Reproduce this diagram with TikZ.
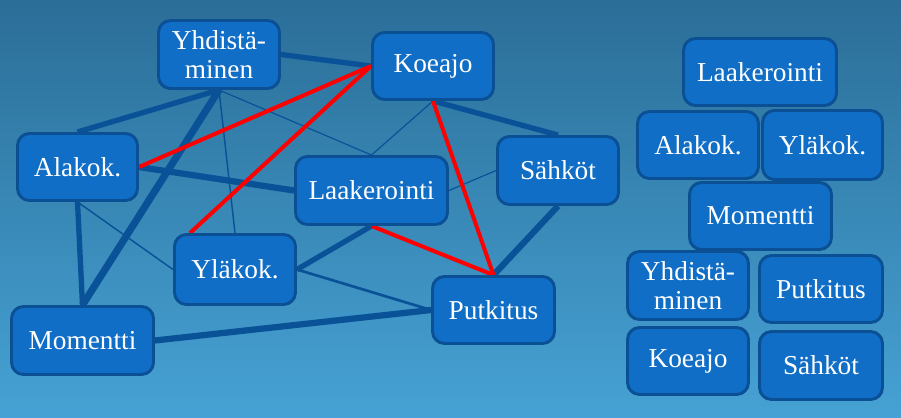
\documentclass[tikz,border=0pt]{standalone}
\usepackage{fontspec}
\setmainfont{Liberation Serif}
\usetikzlibrary{backgrounds}
\pgfdeclarelayer{edges}
\pgfsetlayers{background,edges,main}
\definecolor{bgtop}{HTML}{2B6E98}
\definecolor{bgbot}{HTML}{46A2D4}
\definecolor{boxfill}{HTML}{106EC6}
\definecolor{boxline}{HTML}{0B4F94}
\definecolor{edgecol}{HTML}{0A5298}
\definecolor{redline}{HTML}{FF0000}
\begin{document}
\begin{tikzpicture}[x=0.75pt,y=-0.75pt,
  box/.style={draw=boxline, fill=boxfill, line width=2.2pt, rounded corners=9pt,
    text=white, font=\fontsize{20.5}{22}\selectfont, align=center, inner sep=0pt},
  sz/.style 2 args={minimum width=#1pt, minimum height=#2pt},
  thinlink/.style={draw=edgecol, line width=0.9pt},
  medlink/.style={draw=edgecol, line width=2pt},
  thicklink/.style={draw=edgecol, line width=4pt},
  heavylink/.style={draw=edgecol, line width=4.7pt},
  hugelink/.style={draw=edgecol, line width=5.4pt},
  redlink/.style={draw=redline, line width=3pt}]
\begin{pgfonlayer}{background}
  \shade[top color=bgtop, bottom color=bgbot] (0,0) rectangle (901,418);
\end{pgfonlayer}
\useasboundingbox (0,0) rectangle (901,418);

% left graph nodes
\node[box, sz={90.75}{51}]    (Y)  at (219,54.5)   {Yhdistä-\\minen};
\node[box, sz={90.75}{50.25}] (K)  at (433,66)     {Koeajo};
\node[box, sz={90}{50.25}]    (A)  at (77.5,167)   {Alakok.};
\node[box, sz={114}{51}]      (L)  at (371.5,190.5){Laakerointi};
\node[box, sz={90.75}{51}]    (S)  at (558,170.5)  {Sähköt};
\node[box, sz={90.75}{52.5}]  (Yl) at (235,269.5)  {Yläkok.};
\node[box, sz={106.5}{51}]    (M)  at (82.5,340.5) {Momentti};
\node[box, sz={91.5}{50.25}]  (P)  at (493.5,310)  {Putkitus};

% right stack
\node[box, sz={114.75}{50.25}] (L2)  at (760,72)     {Laakerointi};
\node[box, sz={90.75}{50.25}]  (A2)  at (698,145)    {Alakok.};
\node[box, sz={90}{51.75}]     (Y2)  at (822.5,145)  {Yläkok.};
\node[box, sz={106.5}{50.25}]  (M2)  at (760.5,216)  {Momentti};
\node[box, sz={90.75}{51}]     (Yh2) at (688,285.5)  {Yhdistä-\\minen};
\node[box, sz={92.25}{50.25}]  (P2)  at (821,289)    {Putkitus};
\node[box, sz={90.75}{50.25}]  (K2)  at (688,361)    {Koeajo};
\node[box, sz={92.25}{51}]     (S2)  at (821,365.5)  {Sähköt};

\begin{pgfonlayer}{edges}
  \draw[thicklink] (Y.south) -- (A.north);
  \draw[hugelink]  (Y.south) -- (M.north);
  \draw[thinlink, line width=1.1pt] (Y.south) -- (Yl.north);
  \draw[thinlink]  (Y.south) -- (L.north);
  \draw[thicklink] (Y.east) -- (K.west);
  \draw[thinlink]  (K.south) -- (L.north);
  \draw[thicklink] (K.south) -- (S.north);
  \draw[heavylink] (A.east) -- (L.west);
  \draw[thicklink] (A.south) -- (M.north);
  \draw[thinlink, line width=1.1pt] (A.south) -- (Yl.west);
  \draw[thinlink]  (L.east) -- (S.west);
  \draw[thicklink] (L.south) -- (Yl.east);
  \draw[medlink]   (Yl.east) -- (P.west);
  \draw[heavylink] (M.east) -- (P.west);
  \draw[heavylink] (S.south) -- (P.north);
  \draw[redlink] (K.west) -- (A.east);
  \draw[redlink] (K.west) -- (Yl.141);
  \draw[redlink] (K.south) -- (P.north);
  \draw[redlink] (L.south) -- (P.north);
\end{pgfonlayer}
\end{tikzpicture}
\end{document}
